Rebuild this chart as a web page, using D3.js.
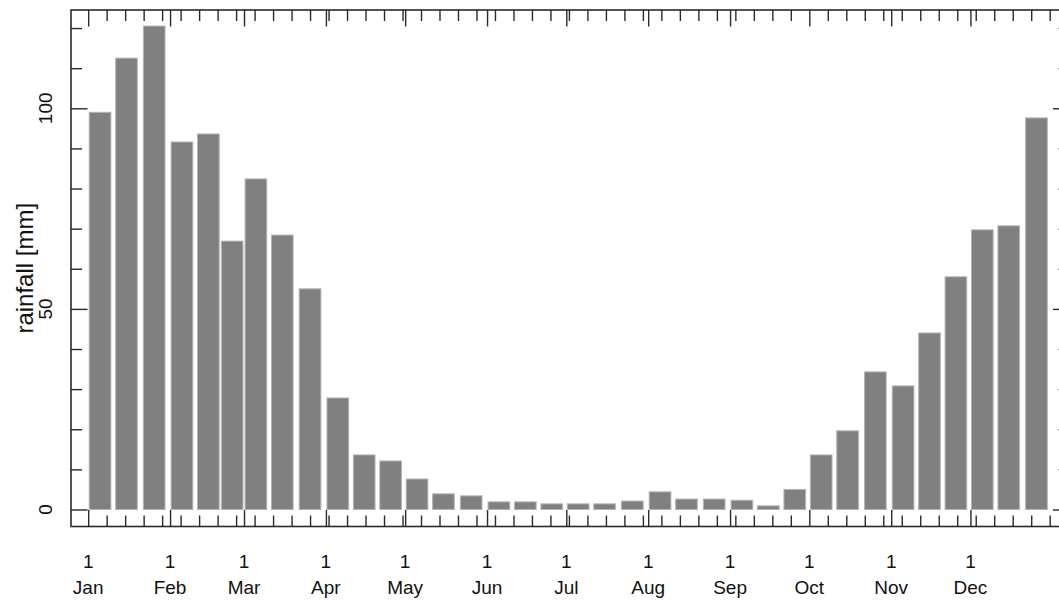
<!DOCTYPE html>
<html>
<head>
<meta charset="utf-8">
<script src="https://cdn.jsdelivr.net/npm/d3@7"></script>
<style>
  html, body { margin: 0; padding: 0; background: #fff; }
  svg { display: block; }
  text { font-family: "Liberation Sans", Arial, Helvetica, sans-serif; fill: #111; }
</style>
</head>
<body>
<svg id="chart" width="1059" height="601"></svg>
<script>
// ---- data ----
const months = ["Jan","Feb","Mar","Apr","May","Jun","Jul","Aug","Sep","Oct","Nov","Dec"];
const monthLengths = [31,28,31,30,31,30,31,31,30,31,30,31];
const dekadStartDates = [1, 11, 21];            // day of month each dekad starts
// mean dekadal rainfall [mm], 3 per month (Jan 1-10 ... Dec 21-31)
const rainfall = [
  99.0, 112.5, 120.5,   // Jan
  91.6, 93.6, 66.9,     // Feb
  82.4, 68.4, 55.0,     // Mar
  27.8, 13.6, 12.1,     // Apr
  7.6, 3.9, 3.4,        // May
  1.9, 1.9, 1.4,        // Jun
  1.4, 1.4, 2.1,        // Jul
  4.4, 2.6, 2.6,        // Aug
  2.3, 0.9, 5.0,        // Sep
  13.6, 19.6, 34.3,     // Oct
  30.8, 44.0, 58.0,     // Nov
  69.7, 70.7, 97.6      // Dec
];
const yMajorTicks = [0, 50, 100];
const yMinorTicks = [10, 20, 30, 40, 60, 70, 80, 90, 110, 120];
const yLabel = "rainfall [mm]";
const dayLabel = "1";

// ---- derived ----
const monthStart = [];
{ let s = 0; monthLengths.forEach(l => { monthStart.push(s); s += l; }); }
const dekads = [];
months.forEach((m, mi) => {
  dekadStartDates.forEach((d, di) => {
    const start = monthStart[mi] + d - 1;
    const end = di < 2 ? monthStart[mi] + dekadStartDates[di + 1] - 1 : monthStart[mi] + monthLengths[mi];
    dekads.push({ month: m, start, len: end - start, value: rainfall[mi * 3 + di] });
  });
});
const weekTicks = d3.range(0, 365, 7).filter(d => !monthStart.includes(d));

// ---- layout ----
const box = { left: 71, right: 1069.5, top: 10, bottom: 526.5 };
const x = d3.scaleLinear().domain([-6.5, 371.5]).range([box.left, box.right]);
const y = d3.scaleLinear().domain([-4.24, 124.5]).range([box.bottom, box.top]);
const barDays = 8.2;

const svg = d3.select("#chart");

// bars
svg.append("g").selectAll("rect").data(dekads).join("rect")
  .attr("x", d => x(d.start + (d.len - 1) / 2 - barDays / 2))
  .attr("width", d => x(barDays) - x(0))
  .attr("y", d => y(d.value))
  .attr("height", d => y(0) - y(d.value))
  .attr("fill", "#808080")
  .attr("stroke", "#b4b4b4")
  .attr("stroke-width", 1);

// axes with inward ticks
function styleAxis(g) {
  g.select(".domain").remove();
  g.selectAll("line").attr("stroke", "#2a2a2a").attr("stroke-width", 1.4);
  g.selectAll("text").remove();
}
const minorLen = 11, majorLen = 16.5;
// left
svg.append("g").attr("transform", `translate(${box.left},0)`)
  .call(d3.axisRight(y).tickValues(yMinorTicks).tickSize(minorLen).tickFormat("")).call(styleAxis);
svg.append("g").attr("transform", `translate(${box.left},0)`)
  .call(d3.axisRight(y).tickValues(yMajorTicks).tickSize(majorLen).tickFormat("")).call(styleAxis);
// right
svg.append("g").attr("transform", `translate(${box.right},0)`)
  .call(d3.axisLeft(y).tickValues(yMinorTicks).tickSize(minorLen).tickFormat("")).call(styleAxis);
svg.append("g").attr("transform", `translate(${box.right},0)`)
  .call(d3.axisLeft(y).tickValues(yMajorTicks).tickSize(majorLen).tickFormat("")).call(styleAxis);
// top
svg.append("g").attr("transform", `translate(0,${box.top})`)
  .call(d3.axisBottom(x).tickValues(weekTicks).tickSize(minorLen).tickFormat("")).call(styleAxis);
svg.append("g").attr("transform", `translate(0,${box.top})`)
  .call(d3.axisBottom(x).tickValues(monthStart).tickSize(majorLen).tickFormat("")).call(styleAxis);
// bottom
svg.append("g").attr("transform", `translate(0,${box.bottom})`)
  .call(d3.axisTop(x).tickValues(weekTicks).tickSize(minorLen).tickFormat("")).call(styleAxis);
svg.append("g").attr("transform", `translate(0,${box.bottom})`)
  .call(d3.axisTop(x).tickValues(monthStart).tickSize(majorLen).tickFormat("")).call(styleAxis);

// box
svg.append("rect")
  .attr("x", box.left).attr("y", box.top)
  .attr("width", box.right - box.left).attr("height", box.bottom - box.top)
  .attr("fill", "none").attr("stroke", "#2a2a2a").attr("stroke-width", 1.6);

// x labels
const xl = svg.append("g").attr("font-size", 19).attr("text-anchor", "middle");
xl.selectAll("text.day").data(monthStart).join("text").attr("class", "day")
  .attr("x", d => x(d)).attr("y", 568).text(dayLabel);
xl.selectAll("text.mon").data(months).join("text").attr("class", "mon")
  .attr("x", (d, i) => x(monthStart[i])).attr("y", 594).text(d => d);

// y labels
svg.append("g").attr("font-size", 19).attr("text-anchor", "middle")
  .selectAll("text").data(yMajorTicks).join("text")
  .attr("transform", d => `translate(52,${y(d)}) rotate(-90)`).text(d => d);

svg.append("text").attr("font-size", 24).attr("text-anchor", "middle")
  .attr("transform", `translate(33,${(box.top + box.bottom) / 2}) rotate(-90)`)
  .text(yLabel);
</script>
</body>
</html>
